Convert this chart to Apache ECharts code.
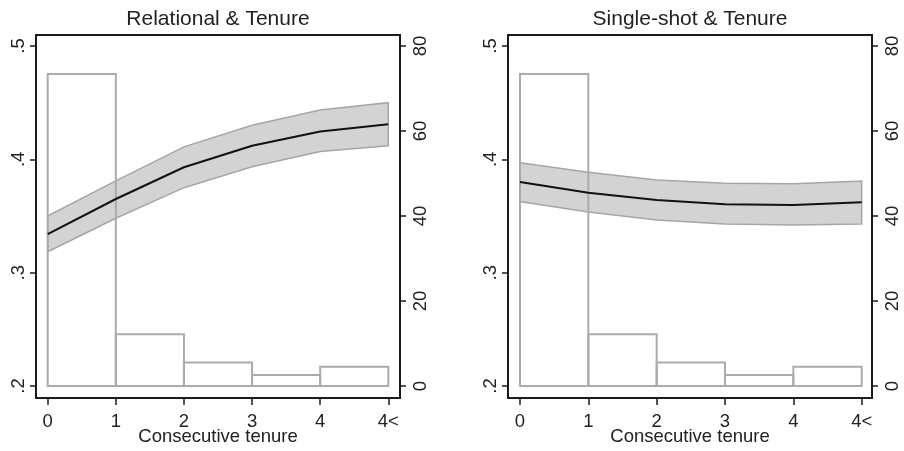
<!DOCTYPE html>
<html>
<head>
<meta charset="utf-8">
<script src="https://cdn.jsdelivr.net/npm/echarts@6/dist/echarts.min.js"></script>
<style>
html,body{margin:0;padding:0;background:#fff;}
#chart{width:904px;height:451px;}
</style>
</head>
<body>
<div id="chart"></div>
<script>
// ---- data ----
const xPositions = [0, 1, 2, 3, 4, 5];
const xTickLabels = ['0', '1', '2', '3', '4', '4<'];
const leftTickValues = [0.2, 0.3, 0.4, 0.5];
const leftTickLabels = ['.2', '.3', '.4', '.5'];
const rightTickValues = [0, 20, 40, 60, 80];
const rightTickLabels = ['0', '20', '40', '60', '80'];

const panelTitles = ['Relational & Tenure', 'Single-shot & Tenure'];
const xAxisTitle = 'Consecutive tenure';

const relMean  = [0.334, 0.365, 0.393, 0.412, 0.4245, 0.431];
const relUpper = [0.350, 0.381, 0.411, 0.430, 0.4435, 0.450];
const relLower = [0.3185, 0.348, 0.375, 0.3935, 0.407, 0.412];

const sinMean  = [0.380, 0.3706, 0.3642, 0.3604, 0.3598, 0.3621];
const sinUpper = [0.397, 0.3886, 0.3818, 0.3789, 0.3785, 0.3809];
const sinLower = [0.3627, 0.3536, 0.3465, 0.343, 0.3421, 0.343];

const histStart = [0, 1, 2, 3, 4];
const histEnd   = [1, 2, 3, 4, 5];
const histPercent = [73.4, 12.2, 5.5, 2.6, 4.5];

// ---- layout ----
const FONT = 'Liberation Sans, Arial, Helvetica, sans-serif';
const panels = [
  { left: 36,  xMin: -0.1718, xMax: 5.1718, title: panelTitles[0], mean: relMean, up: relUpper, lo: relLower },
  { left: 508, xMin: -0.1756, xMax: 5.1510, title: panelTitles[1], mean: sinMean, up: sinUpper, lo: sinLower }
];
const GRID_TOP = 35, GRID_H = 363, GRID_W = 364;

const grid = [], xAxis = [], yAxis = [], series = [], graphic = [];
const tickLine = { color: '#1a1a1a', width: 1.5 };
const labelOf = (vals, labs) => v => { const k = vals.findIndex(t => Math.abs(t - v) < 1e-6); return k >= 0 ? labs[k] : ''; };

panels.forEach((p, i) => {
  grid.push({ left: p.left, top: GRID_TOP, width: GRID_W, height: GRID_H,
    containLabel: false, outerBoundsMode: 'none',
    show: true, borderColor: '#1a1a1a', borderWidth: 2, backgroundColor: 'transparent' });
  xAxis.push({
    type: 'value', gridIndex: i, min: p.xMin, max: p.xMax,
    axisLine: { show: false, onZero: false },
    axisTick: { show: true, length: 7, lineStyle: tickLine, customValues: xPositions },
    splitLine: { show: false },
    axisLabel: { margin: 14, fontSize: 18.5, color: '#222', fontFamily: FONT,
      customValues: xPositions, formatter: labelOf(xPositions, xTickLabels) },
    name: xAxisTitle, nameLocation: 'middle', nameGap: 29, nameMoveOverlap: false,
    nameTextStyle: { fontSize: 18.5, color: '#222', fontFamily: FONT }
  });
  yAxis.push({
    type: 'value', gridIndex: i, position: 'left', min: 0.18941, max: 0.5097,
    axisLine: { show: false, onZero: false },
    axisTick: { show: true, length: 6, lineStyle: tickLine, customValues: leftTickValues },
    splitLine: { show: false },
    axisLabel: { rotate: 90, margin: 8, fontSize: 18.5, color: '#222', fontFamily: FONT,
      customValues: leftTickValues, formatter: labelOf(leftTickValues, leftTickLabels) }
  });
  yAxis.push({
    type: 'value', gridIndex: i, position: 'right', min: -2.824, max: 82.588,
    axisLine: { show: false, onZero: false },
    axisTick: { show: true, length: 6, lineStyle: tickLine, customValues: rightTickValues },
    splitLine: { show: false },
    axisLabel: { rotate: 90, margin: 11, fontSize: 18.5, color: '#222', fontFamily: FONT,
      customValues: rightTickValues, formatter: labelOf(rightTickValues, rightTickLabels) }
  });

  const up = p.up, lo = p.lo;
  // confidence band
  series.push({
    type: 'custom', xAxisIndex: i, yAxisIndex: 2 * i, z: 1, silent: true, clip: false,
    data: [[0, up[0]]],
    renderItem: (params, api) => {
      const pts = [];
      for (let k = 0; k < xPositions.length; k++) pts.push(api.coord([xPositions[k], up[k]]));
      for (let k = xPositions.length - 1; k >= 0; k--) pts.push(api.coord([xPositions[k], lo[k]]));
      return { type: 'polygon', shape: { points: pts },
        style: { fill: '#d3d3d3', stroke: '#a6a6a6', lineWidth: 1.5 } };
    }
  });
  // histogram
  series.push({
    type: 'custom', xAxisIndex: i, yAxisIndex: 2 * i + 1, z: 2, silent: true, clip: false,
    data: histStart.map((s, k) => [s, histEnd[k], histPercent[k]]),
    encode: { x: [0, 1], y: 2 },
    renderItem: (params, api) => {
      const a = api.coord([api.value(0), 0]);
      const b = api.coord([api.value(1), api.value(2)]);
      return { type: 'rect', shape: { x: a[0], y: b[1], width: b[0] - a[0], height: a[1] - b[1] },
        style: { fill: 'none', stroke: '#ababab', lineWidth: 2 } };
    }
  });
  // mean line
  series.push({
    type: 'line', xAxisIndex: i, yAxisIndex: 2 * i, z: 3, silent: true,
    data: xPositions.map((x, k) => [x, p.mean[k]]),
    showSymbol: false, symbol: 'none',
    lineStyle: { color: '#111', width: 2 }
  });

  graphic.push({
    type: 'text', x: p.left + GRID_W / 2, y: 19,
    style: { text: p.title, fontSize: 21, fontFamily: FONT, fill: '#222', align: 'center', verticalAlign: 'middle' },
    silent: true
  });
});

const chart = echarts.init(document.getElementById('chart'), null, { renderer: 'canvas' });
chart.setOption({
  animation: false,
  backgroundColor: '#ffffff',
  grid, xAxis, yAxis, series, graphic
});
</script>
</body>
</html>
